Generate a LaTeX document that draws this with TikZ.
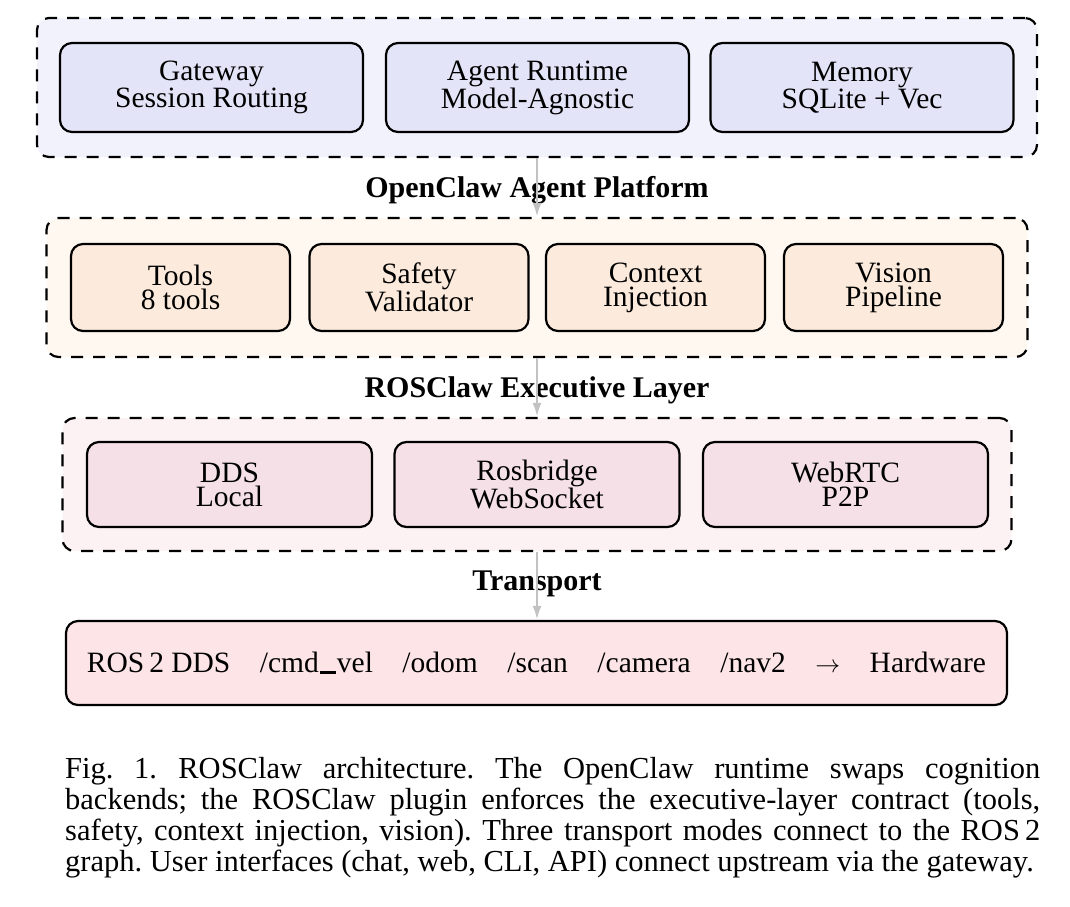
\documentclass[tikz,border=0pt]{standalone}
\usepackage{fontspec}
\setmainfont{Liberation Serif}
\usetikzlibrary{arrows.meta}
\definecolor{gonefill}{HTML}{F2F2FD}
\definecolor{bonefill}{HTML}{E4E4F8}
\definecolor{gtwofill}{HTML}{FEF8F0}
\definecolor{btwofill}{HTML}{FCEBDC}
\definecolor{gthreefill}{HTML}{FCF2F4}
\definecolor{bthreefill}{HTML}{F4E0E6}
\definecolor{hwfill}{HTML}{FCE4E7}
\definecolor{arrowgray}{HTML}{C2C2C2}
\newcommand{\myus}{\kern0.03em\rule[-0.06em]{0.55em}{0.1em}\kern0.03em}
\begin{document}
\begin{tikzpicture}[x=1pt,y=-1pt,
  grp/.style={draw=black, line width=2.2pt, dash pattern=on 12pt off 10pt, rounded corners=12pt, inner sep=0pt},
  box/.style={draw=black, line width=2.2pt, rounded corners=12pt, inner sep=0pt, align=center,
    font=\fontsize{29.5}{24}\selectfont},
  lab/.style={inner sep=0pt, font=\fontsize{30}{36}\selectfont\bfseries},
  flow/.style={draw=arrowgray, line width=2.6pt, -{Latex[length=14pt,width=9pt]}}]
\useasboundingbox (0,0) rectangle (1070,906);

% group 1
\node[grp, fill=gonefill, minimum width=1000pt, minimum height=139pt] (g1) at (537,87.5) {};
\node[box, fill=bonefill, minimum width=303pt, minimum height=89pt] (gw) at (211.5,87.5) {Gateway\\Session Routing};
\node[box, fill=bonefill, minimum width=303pt, minimum height=89pt] (ar) at (537.5,87.5) {Agent Runtime\\Model-Agnostic};
\node[box, fill=bonefill, minimum width=303pt, minimum height=89pt] (mem) at (862,87.5) {Memory\\SQLite + Vec};
\node[lab] (l1) at (537,190) {OpenClaw Agent Platform};

% group 2
\node[grp, fill=gtwofill, minimum width=981pt, minimum height=139pt] (g2) at (537,287.5) {};
\node[box, fill=btwofill, minimum width=219pt, minimum height=87pt] (tools) at (180.5,287.5) {Tools\\8 tools};
\node[box, fill=btwofill, minimum width=219pt, minimum height=87pt] (safe) at (419,287.5) {Safety\\Validator};
\node[box, fill=btwofill, minimum width=219pt, minimum height=87pt] (ctx) at (655.5,287.5) {Context\\Injection};
\node[box, fill=btwofill, minimum width=219pt, minimum height=87pt] (vis) at (893.5,287.5) {Vision\\Pipeline};
\node[lab] (l2) at (537,390) {ROSClaw Executive Layer};

% group 3
\node[grp, fill=gthreefill, minimum width=949pt, minimum height=133pt] (g3) at (537,484.5) {};
\node[box, fill=bthreefill, minimum width=285pt, minimum height=85pt] (dds) at (229.5,484.5) {DDS\\Local};
\node[box, fill=bthreefill, minimum width=285pt, minimum height=85pt] (rb) at (537,484.5) {Rosbridge\\WebSocket};
\node[box, fill=bthreefill, minimum width=285pt, minimum height=85pt] (rtc) at (845.5,484.5) {WebRTC\\P2P};
\node[lab] (l3) at (537,584) {Transport};

% hardware
\node[box, fill=hwfill, minimum width=941pt, minimum height=84pt] (hw) at (536.5,663)
  {ROS\,2 DDS\quad /cmd\myus vel\quad /odom\quad /scan\quad /camera\quad /nav2\quad $\rightarrow$\quad Hardware};

% arrows
\draw[flow] (g1.south) -- (g1.south |- g2.north);
\draw[flow] (g2.south) -- (g2.south |- g3.north);
\draw[flow] (g3.south) -- (g3.south |- hw.north);

% caption
\node[anchor=north west, text width=975pt, align=justify, inner sep=0pt,
  font=\fontsize{30.5}{31}\selectfont\frenchspacing] (cap) at (65,757)
  {Fig.~1.\hspace{0.7em}ROSClaw architecture. The OpenClaw runtime swaps cognition\linebreak
   backends; the ROSClaw plugin enforces the executive-layer contract (tools,\linebreak
   safety, context injection, vision). Three transport modes connect to the ROS\,2\linebreak
   graph. User interfaces (chat, web, CLI, API) connect upstream via the gateway.};
\end{tikzpicture}
\end{document}
